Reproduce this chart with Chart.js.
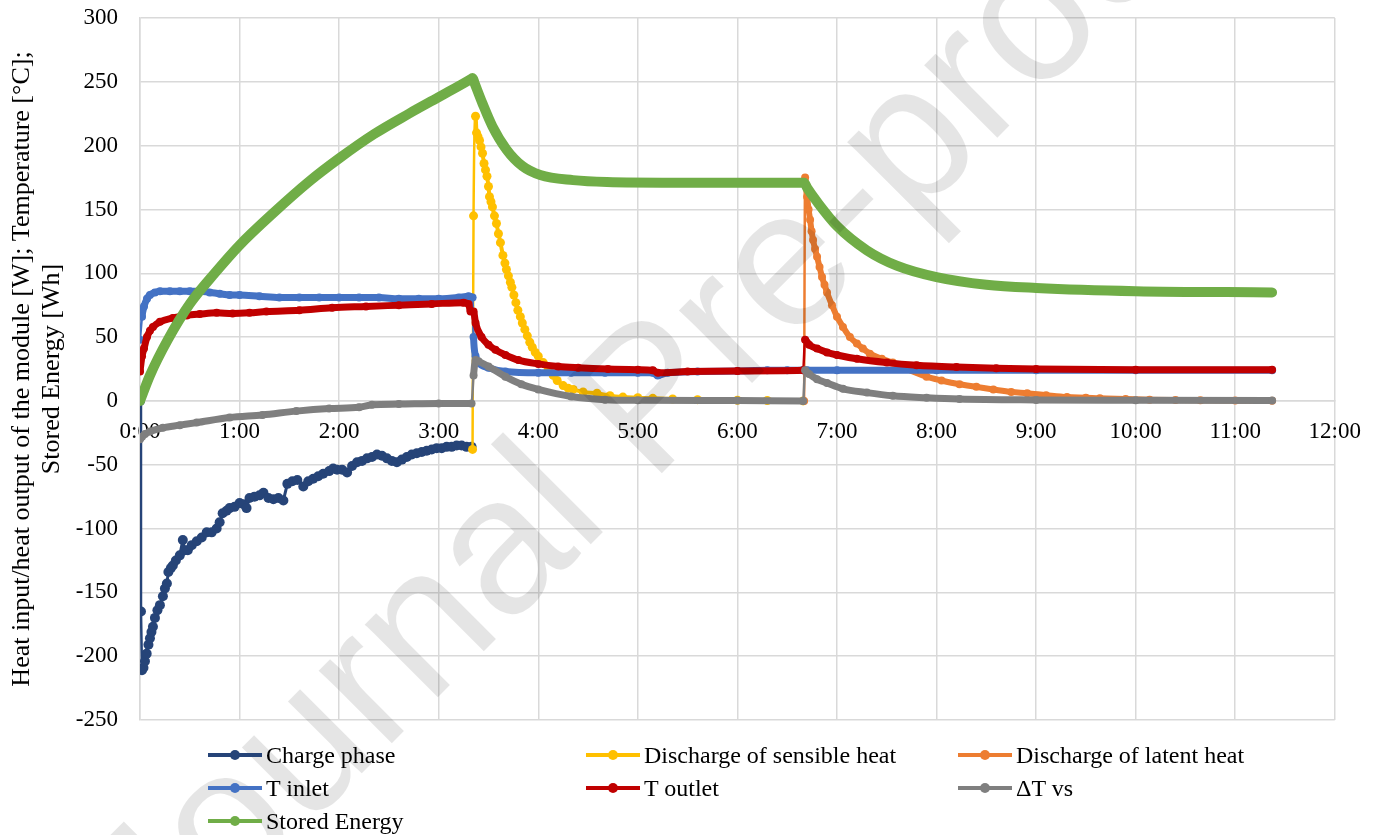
<!DOCTYPE html>
<html>
<head>
<meta charset="utf-8">
<script src="https://cdn.jsdelivr.net/npm/chart.js@4.4.1/dist/chart.umd.min.js"></script>
<style>
  body { margin: 0; background: #fff; }
  #wrap { position: relative; width: 1378px; height: 835px; overflow: hidden; }
  #legend { position: absolute; left: 0; top: 0; width: 1378px; height: 835px; pointer-events: none;
            font-family: 'Liberation Serif', 'Times New Roman', serif; font-size: 24px; color: #000; }
  .item { position: absolute; display: flex; align-items: center; height: 32px; white-space: nowrap; }
  .swatch { position: relative; width: 54px; height: 4px; margin-right: 4px; }
  .swatch i { position: absolute; left: 22px; top: -3px; width: 10px; height: 10px; border-radius: 50%; }
</style>
</head>
<body>
<div id="wrap">
  <canvas id="chart" width="1378" height="835"></canvas>
  <div id="legend"></div>
</div>
<script>
// time in hours, values in W / °C / Wh
const chargeTime = [0, 0.01, 0.02, 0.035, 0.05, 0.067, 0.085, 0.10, 0.115, 0.13, 0.15, 0.175, 0.20, 0.23, 0.25, 0.27, 0.285, 0.31, 0.33, 0.36,
  0.40, 0.43, 0.45, 0.48, 0.52, 0.57, 0.62, 0.67, 0.72, 0.77, 0.80, 0.83, 0.87, 0.90, 0.95, 1.00, 1.04, 1.07, 1.10, 1.15,
  1.20, 1.24, 1.29, 1.34, 1.39, 1.44, 1.48, 1.53, 1.58, 1.64, 1.69, 1.74, 1.79, 1.84, 1.90, 1.94, 1.98, 2.03, 2.08, 2.13,
  2.18, 2.23, 2.28, 2.33, 2.38, 2.43, 2.48, 2.53, 2.58, 2.63, 2.68, 2.73, 2.78, 2.83, 2.88, 2.93, 2.98, 3.03, 3.08, 3.13,
  3.18, 3.23, 3.28, 3.33];
const chargePower = [0, -165, -211, -209, -204, -198, -191, -186, -181, -177, -170, -164, -160, -153, -147, -143, -134, -131, -129, -125,
  -121, -109, -117, -117, -113, -110, -107, -103, -103, -100, -95, -88, -86, -84, -83, -80, -81, -84, -76, -75,
  -74, -72, -76, -77, -76, -78, -65, -63, -62, -67, -63, -61, -59, -57, -55, -53, -54, -54, -56, -51,
  -48, -47, -45, -44, -42, -43, -45, -47, -48, -46, -44, -42, -41, -40, -39, -38, -37, -37, -36, -36,
  -35, -35, -36, -36];

const sensibleTime = [3.34, 3.35, 3.37, 3.38, 3.395, 3.41, 3.425, 3.44, 3.455, 3.47, 3.485, 3.50, 3.51, 3.525, 3.54, 3.56, 3.58, 3.60, 3.62, 3.645,
  3.665, 3.68, 3.70, 3.72, 3.735, 3.755, 3.775, 3.795, 3.82, 3.84, 3.865, 3.89, 3.915, 3.94, 3.97, 4.00, 4.05, 4.10, 4.15, 4.19,
  4.25, 4.30, 4.35, 4.45, 4.59, 4.72, 4.85, 5.00, 5.15, 5.35, 5.6, 6.0, 6.3, 6.66];
const sensiblePower = [-38, 145, 223, 210, 207, 204, 199, 194, 186, 181, 176, 168, 160, 156, 152, 145, 139, 131, 124, 114,
  108, 103, 98, 93, 89, 83, 77, 71, 66, 61, 56, 51, 46, 42, 38, 35, 30, 25, 20, 16,
  12, 10, 9, 7, 6, 4, 3, 2.5, 2, 1.5, 1, 0.5, 0.3, 0];

const latentTime = [6.67, 6.68, 6.69, 6.70, 6.715, 6.73, 6.745, 6.76, 6.78, 6.80, 6.825, 6.85, 6.875, 6.90, 6.95, 7.00, 7.06, 7.13, 7.2, 7.26,
  7.33, 7.45, 7.56, 7.7, 7.9, 8.05, 8.23, 8.4, 8.57, 8.75, 8.91, 9.1, 9.31, 9.5, 9.64, 9.9, 10.14, 10.4, 10.65, 11.0, 11.37];
const latentPower = [0, 175, 168, 160, 150, 142, 133, 126, 119, 113, 105, 97, 91, 85, 75, 66, 58, 50, 45, 41,
  37, 33, 30, 25, 19, 16, 13, 11, 9, 7, 6, 4.5, 3, 2.5, 2, 1.5, 1, 0.7, 0.5, 0.3, 0.2];

const inletTime = [0, 0.02, 0.04, 0.07, 0.10, 0.15, 0.20, 0.30, 0.40, 0.50, 0.60, 0.70, 0.80, 0.90, 1.00, 1.20, 1.40, 1.60, 1.80, 2.00,
  2.20, 2.40, 2.60, 2.80, 3.00, 3.20, 3.30, 3.34, 3.35, 3.37, 3.40, 3.50, 3.67, 4.00, 4.33, 4.67, 5.00, 5.15, 5.20, 5.30,
  5.60, 6.00, 6.30, 6.50, 6.66, 6.70, 7.00, 8.00, 9.00, 10.00, 11.37];
const inletTemp = [48, 66, 74, 80, 83, 85, 86, 86, 86, 86, 86, 85, 84, 83, 83, 82, 81, 81, 81, 81,
  81, 81, 80, 80, 80, 81, 82, 81, 50, 35, 30, 26, 23, 22, 22, 22, 22, 22, 20, 22,
  23, 23.5, 24, 24, 24, 24, 24, 24, 24, 24, 24];

const outletTime = [0, 0.02, 0.04, 0.07, 0.10, 0.13, 0.20, 0.33, 0.47, 0.60, 0.77, 0.93, 1.10, 1.27, 1.60, 1.93, 2.27, 2.60, 2.93, 3.25,
  3.30, 3.32, 3.35, 3.37, 3.43, 3.50, 3.57, 3.67, 3.80, 4.00, 4.20, 4.40, 4.70, 5.00, 5.15, 5.20, 5.50, 6.00, 6.66, 6.68,
  6.72, 6.80, 6.90, 7.00, 7.20, 7.50, 7.80, 8.20, 8.60, 9.00, 10.00, 11.37];
const outletTemp = [23, 35, 41, 50, 55, 58, 62, 65, 67, 68, 69, 68.5, 69, 70, 71, 73, 74, 75, 76, 77,
  76, 70, 70, 61, 50, 44, 40, 36, 32, 29, 27, 26, 25, 24.5, 24, 22, 23, 23.5, 24, 48,
  44, 41, 38, 36, 33, 30, 28, 26.5, 25.5, 25, 24.5, 24.5];

const deltaTime = [0, 0.02, 0.05, 0.10, 0.23, 0.40, 0.57, 0.90, 1.23, 1.57, 1.90, 2.20, 2.33, 2.60, 3.00, 3.33, 3.35, 3.37, 3.40, 3.50,
  3.67, 3.83, 4.00, 4.33, 4.67, 5.00, 6.00, 6.66, 6.68, 6.72, 6.80, 6.90, 7.06, 7.30, 7.56, 7.90, 8.23, 9.00, 10.00, 11.37];
const deltaTemp = [-30, -28, -26, -24, -21, -19, -17, -13, -11, -8, -6, -5, -3, -2.5, -2, -2, 20, 32, 31, 27,
  19, 13, 9, 3.5, 1, 0.5, 0.3, 0, 24, 21, 17, 14, 9.5, 6.5, 4, 2.5, 1.5, 0.8, 0.5, 0.4];

const storedTime = [0, 0.10, 0.28, 0.50, 0.75, 1.00, 1.35, 1.70, 2.00, 2.35, 2.70, 3.00, 3.32, 3.34, 3.36, 3.44, 3.54, 3.68, 3.84, 4.02,
  4.35, 4.69, 5.35, 6.00, 6.65, 6.67, 6.70, 6.80, 7.00, 7.30, 7.60, 8.00, 8.50, 9.00, 10.00, 11.37];
const storedEnergy = [0, 20, 48, 76, 100, 122, 148, 172, 190, 209, 225, 238, 252, 253, 249, 233, 215, 197, 184, 177,
  173, 171.5, 171, 171, 171, 171, 167, 156, 137, 118, 106, 97, 91, 88.5, 86, 85];

const yTicks = { min: -250, max: 300, step: 50 };
const xTicks = { min: 0, max: 12, step: 1 };

const pts = (xs, ys) => xs.map((x, i) => ({ x: x, y: ys[i] }));
// vertical jumps are drawn as a thin line, like in the original
const thinJumps = (w) => (ctx) =>
  Math.abs(ctx.p1.parsed.x - ctx.p0.parsed.x) < 0.025 && Math.abs(ctx.p1.parsed.y - ctx.p0.parsed.y) > 15 ? 2.5 : w;

function series(label, xs, ys, color, width, radius, order, smooth) {
  return {
    label: label,
    data: pts(xs, ys),
    borderColor: color,
    backgroundColor: color,
    pointBackgroundColor: color,
    pointBorderWidth: 0,
    pointRadius: radius,
    borderWidth: width,
    borderCapStyle: 'round',
    borderJoinStyle: 'round',
    cubicInterpolationMode: smooth ? 'monotone' : 'default',
    segment: { borderWidth: thinJumps(width) },
    order: order
  };
}

const datasets = [
  series('Charge phase', chargeTime, chargePower, '#264478', 3, 5, 7, false),
  series('Discharge of sensible heat', sensibleTime, sensiblePower, '#FFC000', 4, 4.5, 6, true),
  series('Discharge of latent heat', latentTime, latentPower, '#ED7D31', 6, 4, 5, true),
  series('T inlet', inletTime, inletTemp, '#4472C4', 7, 4, 4, true),
  series('T outlet', outletTime, outletTemp, '#C00000', 7, 4, 3, true),
  series('\u0394T vs', deltaTime, deltaTemp, '#7F7F7F', 7, 4, 2, true),
  series('Stored Energy', storedTime, storedEnergy, '#70AD47', 10, 0, 1, true)
];

const watermark = {
  id: 'watermark',
  afterDraw(chart) {
    const ctx = chart.ctx;
    ctx.save();
    ctx.translate(160, 975);
    ctx.rotate(-45 * Math.PI / 180);
    ctx.font = "195px 'Liberation Sans', Arial, sans-serif";
    ctx.fillStyle = 'rgba(0,0,0,0.1)';
    ctx.textBaseline = 'alphabetic';
    ctx.fillText('Journal Pre-proof', 0, 0);
    ctx.restore();
  }
};

Chart.defaults.font.family = "'Liberation Serif', 'Times New Roman', serif";
Chart.defaults.font.size = 23;
Chart.defaults.color = '#000';

const grid = '#d9d9d9';
const chart = new Chart(document.getElementById('chart').getContext('2d'), {
  type: 'line',
  data: { datasets: datasets },
  options: {
    responsive: false,
    animation: false,
    devicePixelRatio: 1,
    layout: { padding: { left: 0, right: 43, top: 18, bottom: 115 } },
    plugins: { legend: { display: false }, tooltip: { enabled: false } },
    scales: {
      x: {
        type: 'linear',
        position: { y: 0 },
        min: xTicks.min, max: xTicks.max,
        grid: { color: grid, lineWidth: 1.5, drawTicks: false },
        border: { color: grid, width: 1.5 },
        ticks: {
          stepSize: xTicks.step, autoSkip: false, maxRotation: 0, padding: 17,
          callback: (v) => v + ':00'
        }
      },
      y: {
        min: yTicks.min, max: yTicks.max,
        grid: { color: grid, lineWidth: 1.5, drawTicks: false },
        border: { color: grid, width: 1.5 },
        ticks: { stepSize: yTicks.step, padding: 22 },
        title: {
          display: true,
          text: ['Heat input/heat output of the module [W]; Temperature [\u00B0C];', 'Stored Energy [Wh]'],
          font: { size: 26, lineHeight: '30px' },
          padding: { top: 7, bottom: 0 }
        },
        afterFit: (scale) => { scale.width = 140; scale.paddingTop = 0; scale.paddingBottom = 0; }
      }
    }
  },
  plugins: [watermark]
});

// legend laid out in three columns like the original
const cols = [208, 586, 958];
const rows = [755, 788, 821];
const legend = document.getElementById('legend');
chart.data.datasets.forEach((ds, i) => {
  const item = document.createElement('div');
  item.className = 'item';
  item.style.left = cols[i % 3] + 'px';
  item.style.top = (rows[Math.floor(i / 3)] - 16) + 'px';
  item.innerHTML = '<span class="swatch" style="background:' + ds.borderColor + '"><i style="background:' +
    ds.borderColor + '"></i></span><span>' + ds.label + '</span>';
  legend.appendChild(item);
});
</script>
</body>
</html>
